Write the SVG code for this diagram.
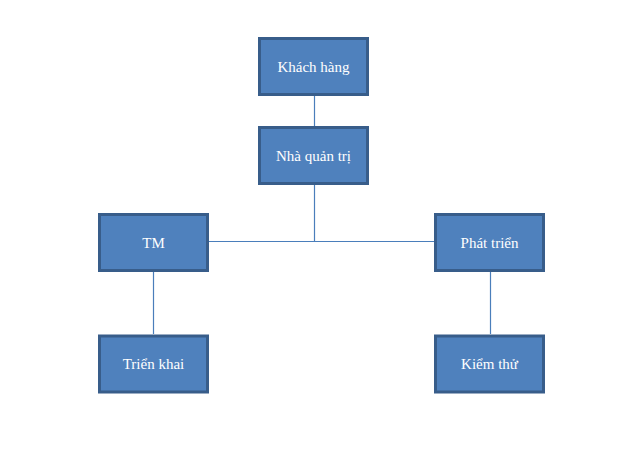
<svg xmlns="http://www.w3.org/2000/svg" width="619" height="450" viewBox="0 0 619 450">
<style>
.box{fill:#4F81BD;stroke:#385D8A;stroke-width:3}
.lbl{fill:#FFFFFF;font-size:15px;text-anchor:middle}
.conn{stroke:#4A7EBB;stroke-width:1.2;fill:none}
</style>
<rect width="619" height="450" fill="#FFFFFF"/>
<g id="connectors">
<line class="conn" x1="314.5" y1="96" x2="314.5" y2="126"/>
<line class="conn" x1="314.5" y1="185" x2="314.5" y2="241.5"/>
<line class="conn" x1="209" y1="241.5" x2="434" y2="241.5"/>
<line class="conn" x1="153.5" y1="272" x2="153.5" y2="334"/>
<line class="conn" x1="490.5" y1="272" x2="490.5" y2="334"/>
</g>
<g font-family="'Liberation Serif', Tinos, 'Times New Roman', 'DejaVu Serif', serif">
<g id="khach-hang">
<rect class="box" x="259.5" y="38.5" width="108" height="56"/>
<text class="lbl" x="313.5" y="71.5">Khách hàng</text>
</g>
<g id="nha-quan-tri">
<rect class="box" x="259.5" y="127.5" width="108" height="56"/>
<text class="lbl" x="313.5" y="160.5">Nhà quản trị</text>
</g>
<g id="tm">
<rect class="box" x="99.5" y="214.5" width="108" height="56"/>
<text class="lbl" x="153.5" y="247.5">TM</text>
</g>
<g id="phat-trien">
<rect class="box" x="435.5" y="214.5" width="108" height="56"/>
<text class="lbl" x="489.5" y="247.5">Phát triển</text>
</g>
<g id="trien-khai">
<rect class="box" x="99.5" y="336" width="108" height="56"/>
<text class="lbl" x="153.5" y="369">Triển khai</text>
</g>
<g id="kiem-thu">
<rect class="box" x="435.5" y="336" width="108" height="56"/>
<text class="lbl" x="489.5" y="369">Kiểm thử</text>
</g>
</g>
</svg>
